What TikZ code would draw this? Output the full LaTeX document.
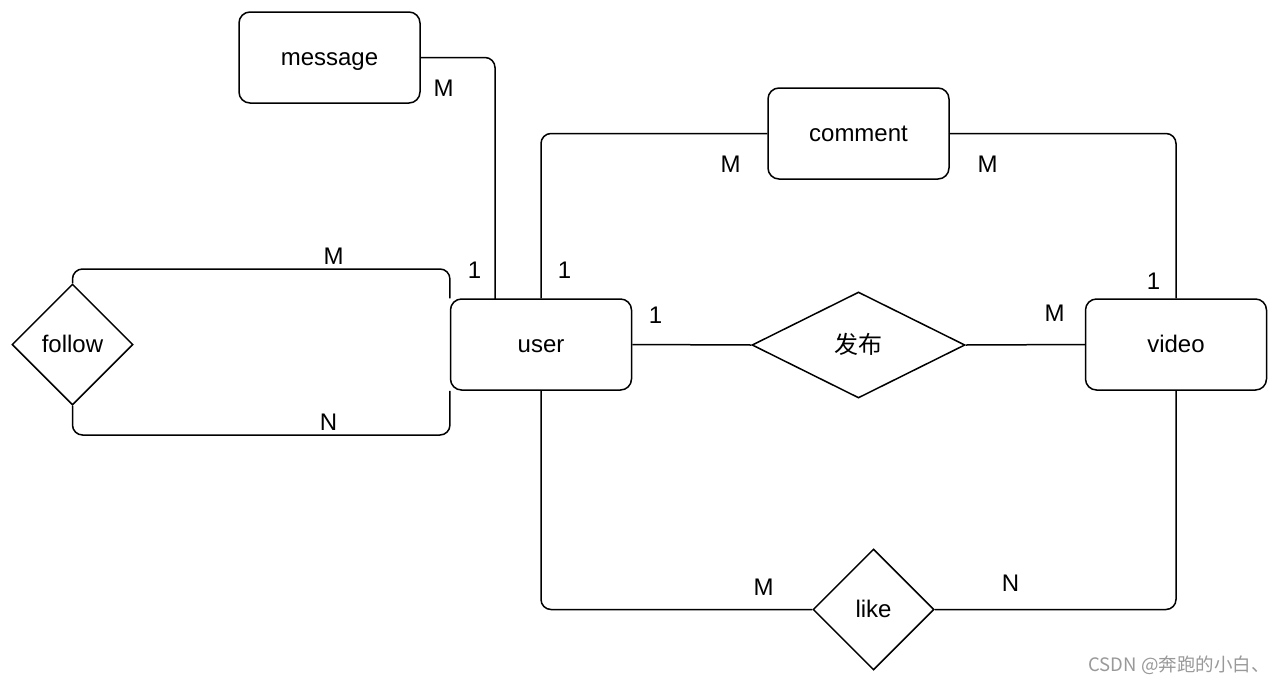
\documentclass[tikz,border=0pt]{standalone}
\usepackage{fontspec}
\setmainfont{Liberation Sans}
\newfontfamily\cjk{Noto Sans CJK SC}
\usetikzlibrary{shapes.geometric}
\begin{document}
\begin{tikzpicture}[x=1pt,y=-1pt,
  every node/.style={font=\fontsize{24}{28}\selectfont},
  entity/.style={draw, line width=1.5pt, rounded corners=11pt, minimum width=181pt, minimum height=91pt, inner sep=0pt, text height=18pt, text depth=2pt},
  rel/.style={draw, diamond, line width=1.5pt, inner sep=0pt, text height=18pt, text depth=2pt},
  conn/.style={line width=1.5pt, rounded corners=10pt},
  lbl/.style={inner sep=0pt}]
\useasboundingbox[fill=white] (0,0) rectangle (1280,683);
% entities
\node[entity] (message) at (329.5,57.5) {message};
\node[entity] (comment) at (858.5,133.5) {comment};
\node[entity] (user) at (541,344.5) {user};
\node[entity] (video) at (1176,344.5) {video};
% relationships
\node[rel, minimum width=213pt, minimum height=106pt] (fabu) at (858.5,345) {\cjk 发布};
\node[rel, minimum width=121pt, minimum height=121pt] (follow) at (72.5,344.5) {follow};
\node[rel, minimum width=121pt, minimum height=121pt] (like) at (873.5,609.5) {like};
% helper coordinates
\coordinate (mu) at (495,299);
\coordinate (ft) at (450,269);
\coordinate (fb) at (450,435);
% connectors
\draw[conn] (message.east) -| (mu);
\draw[conn] (comment.west) -| (user.north);
\draw[conn] (comment.east) -| (video.north);
\draw[conn] (follow.north) |- (ft) -- (user.north west);
\draw[conn] (follow.south) |- (fb) -- (user.south west);
\draw[conn] (user.east) -- (fabu.west);
\draw[conn] (fabu.east) -- (video.west);
\draw[conn] (user.south) |- (like.west);
\draw[conn] (like.east) -| (video.south);
% cardinality labels
\node[lbl] (l1) at (443.5,88.5) {M};
\node[lbl] (l2) at (730.5,164.5) {M};
\node[lbl] (l3) at (987.5,164.5) {M};
\node[lbl] (l4) at (564.5,270.5) {1};
\node[lbl] (l5) at (1153.5,281.5) {1};
\node[lbl] (l6) at (474.5,270.5) {1};
\node[lbl] (l7) at (333.5,256.5) {M};
\node[lbl] (l8) at (328.5,422.5) {N};
\node[lbl] (l9) at (655.5,315.5) {1};
\node[lbl] (l10) at (1054.5,313.5) {M};
\node[lbl] (l11) at (763.5,587.5) {M};
\node[lbl] (l12) at (1010.5,583.5) {N};
% watermark
\node[lbl, text=black!40, font=\cjk\fontsize{18.5}{21}\selectfont] (wm) at (1179,665) {CSDN @奔跑的小白、};
\end{tikzpicture}
\end{document}
